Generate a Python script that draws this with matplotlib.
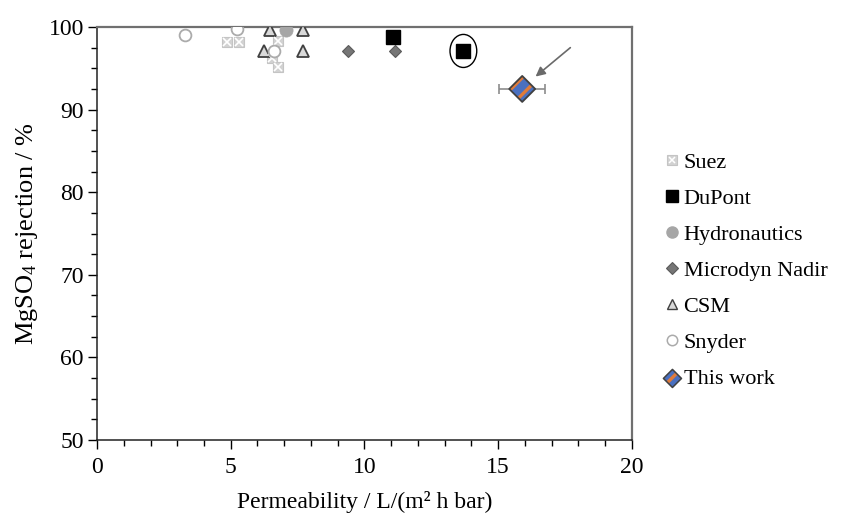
import matplotlib
matplotlib.use("Agg")
import matplotlib.pyplot as plt
from matplotlib.lines import Line2D
from matplotlib.patches import Ellipse
from matplotlib.legend_handler import HandlerTuple
from matplotlib.ticker import MultipleLocator

plt.rcParams['font.family'] = ['Liberation Serif', 'DejaVu Serif']
plt.rcParams['mathtext.fontset'] = 'custom'
plt.rcParams['mathtext.rm'] = 'Liberation Serif'
plt.rcParams['mathtext.it'] = 'Liberation Serif:italic'
plt.rcParams['hatch.linewidth'] = 2.4

# Data (permeability L/(m2 h bar), MgSO4 rejection %)
suez_x = [4.85, 5.3, 6.75, 6.55, 6.75]
suez_y = [98.2, 98.2, 98.3, 96.2, 95.2]
dupont_x = [11.05, 13.7]
dupont_y = [98.8, 97.1]
hydro_x = [7.05]
hydro_y = [99.6]
microdyn_x = [9.4, 11.15]
microdyn_y = [97.1, 97.1]
csm_x = [6.45, 7.7, 6.25, 7.7]
csm_y = [99.6, 99.6, 97.1, 97.1]
snyder_x = [3.3, 5.25, 6.6]
snyder_y = [99.0, 99.7, 97.1]
this_x = [15.9]
this_y = [92.5]
this_xerr = [0.85]

labels = ['Suez', 'DuPont', 'Hydronautics', 'Microdyn Nadir', 'CSM', 'Snyder', 'This work']
xticks = [0, 5, 10, 15, 20]
yticks = [50, 60, 70, 80, 90, 100]

fig = plt.figure(figsize=(8.55, 5.15), dpi=100)
ax = fig.add_axes([0.1135, 0.1456, 0.6255, 0.802])

# Suez: light grey squares with white cross
ax.plot(suez_x, suez_y, ls='none', marker='s', ms=7.5, mfc='#d2d2d2', mec='#c4c4c4', mew=0.8, zorder=3)
ax.plot(suez_x, suez_y, ls='none', marker='x', ms=5.5, mec='white', mew=1.2, zorder=3.1)
# CSM triangles
ax.plot(csm_x, csm_y, ls='none', marker='^', ms=9, mfc='#d9d9d9', mec='#404040', mew=1.3, zorder=3)
# Snyder circles
ax.plot(snyder_x, snyder_y, ls='none', marker='o', ms=8.5, mfc='white', mec='#ababab', mew=1.3, zorder=4)
# Hydronautics
ax.plot(hydro_x, hydro_y, ls='none', marker='o', ms=9.5, mfc='#a6a6a6', mec='#a6a6a6', mew=0.5, zorder=4)
# Microdyn Nadir
ax.plot(microdyn_x, microdyn_y, ls='none', marker='D', ms=6.5, mfc='#767676', mec='#5a5a5a', mew=0.8, zorder=4)
# DuPont
ax.plot(dupont_x, dupont_y, ls='none', marker='s', ms=9.5, mfc='black', mec='black', zorder=4)

# This work
ax.errorbar(this_x, this_y, xerr=this_xerr, fmt='none', ecolor='#8c8c8c', elinewidth=1.2,
            capsize=3.5, capthick=1.2, zorder=4)
ax.scatter(this_x, this_y, marker='D', s=175, facecolor='#4a70c0', edgecolor='#e07b39',
           linewidths=0.01, hatch='//', zorder=5)
ax.scatter(this_x, this_y, marker='D', s=175, facecolor='none', edgecolor='#404040',
           linewidths=1.3, zorder=6)

# Highlight ellipse around the DuPont point
ax.add_patch(Ellipse((dupont_x[1], dupont_y[1]), width=1.0, height=4.0, fill=False,
                     edgecolor='black', lw=1.0, zorder=6))
# Arrow pointing to this work
ax.annotate('', xy=(this_x[0] + 0.5, this_y[0] + 1.5), xytext=(this_x[0] + 1.8, this_y[0] + 5.0),
            arrowprops=dict(arrowstyle='-|>', color='#6a6a6a', lw=1.2, mutation_scale=14,
                            shrinkA=0, shrinkB=0), zorder=6)

ax.set_xlim(0, 20)
ax.set_ylim(50, 100)
ax.set_xticks(xticks)
ax.set_yticks(yticks)
ax.xaxis.set_minor_locator(MultipleLocator(1))
ax.yaxis.set_minor_locator(MultipleLocator(2.5))
ax.tick_params(which='both', direction='out', top=False, right=False, labelsize=17, colors='black')
ax.tick_params(which='major', length=6.5, width=1.0)
ax.tick_params(which='minor', length=4.5, width=1.0)
ax.tick_params(axis='x', pad=6)
ax.tick_params(axis='y', pad=3)
for s in ['left', 'bottom']:
    ax.spines[s].set_color('#222222')
    ax.spines[s].set_linewidth(1.1)
for s in ['top', 'right']:
    ax.spines[s].set_color('#707070')
    ax.spines[s].set_linewidth(1.6)

ax.set_xlabel('Permeability / L/(m² h bar)', fontsize=17, labelpad=9)
ax.set_ylabel('MgSO$_\\mathregular{4}$ rejection / %', fontsize=19, labelpad=6)

# Legend proxies
h_suez = (Line2D([], [], ls='none', marker='s', ms=7, mfc='#d2d2d2', mec='#c4c4c4', mew=0.8),
          Line2D([], [], ls='none', marker='x', ms=5, mec='white', mew=1.1))
h_dupont = Line2D([], [], ls='none', marker='s', ms=8, mfc='black', mec='black')
h_hydro = Line2D([], [], ls='none', marker='o', ms=8, mfc='#a6a6a6', mec='#a6a6a6')
h_micro = Line2D([], [], ls='none', marker='D', ms=6, mfc='#767676', mec='#5a5a5a', mew=0.8)
h_csm = Line2D([], [], ls='none', marker='^', ms=7.5, mfc='#d9d9d9', mec='#404040', mew=1.0)
h_snyder = Line2D([], [], ls='none', marker='o', ms=7.5, mfc='white', mec='#ababab', mew=1.1)
p1 = ax.scatter([], [], marker='D', s=85, facecolor='#4a70c0', edgecolor='#e07b39',
                linewidths=0.01, hatch='//')
p2 = ax.scatter([], [], marker='D', s=85, facecolor='none', edgecolor='#404040', linewidths=1.1)
h_this = (p1, p2)

leg = fig.legend([h_suez, h_dupont, h_hydro, h_micro, h_csm, h_snyder, h_this], labels,
                 handler_map={tuple: HandlerTuple(ndivide=1, pad=0)},
                 loc='upper left', bbox_to_anchor=(0.767, 0.722), frameon=False,
                 fontsize=16, handlelength=0.7, handletextpad=0.15, labelspacing=0.70,
                 scatterpoints=1, borderaxespad=0)

fig.savefig('out.png', dpi=100)
